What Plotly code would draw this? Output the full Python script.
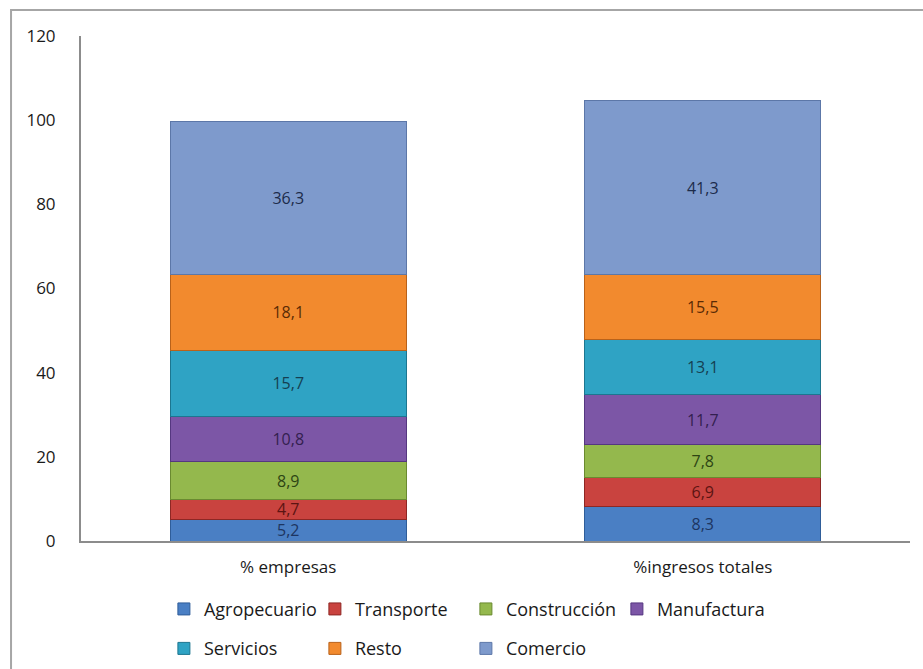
import plotly.graph_objects as go

categories = ["% empresas", "%ingresos totales"]
sectors = ["Agropecuario", "Transporte", "Construcción", "Manufactura",
           "Servicios", "Resto", "Comercio"]
values = {
    "Agropecuario": [5.2, 8.3],
    "Transporte": [4.7, 6.9],
    "Construcción": [8.9, 7.8],
    "Manufactura": [10.8, 11.7],
    "Servicios": [15.7, 13.1],
    "Resto": [18.1, 15.5],
    "Comercio": [36.3, 41.3],
}
y_ticks = [0, 20, 40, 60, 80, 100, 120]

fills = {
    "Agropecuario": "#4a7fc4",
    "Transporte": "#c9433f",
    "Construcción": "#94b84d",
    "Manufactura": "#7c56a6",
    "Servicios": "#2fa3c4",
    "Resto": "#f28a2e",
    "Comercio": "#7e9acc",
}
edges = {
    "Agropecuario": "#2f5d99",
    "Transporte": "#8e2724",
    "Construcción": "#6a8a30",
    "Manufactura": "#553780",
    "Servicios": "#1c7690",
    "Resto": "#b9621a",
    "Comercio": "#5c77a8",
}
label_colors = {
    "Agropecuario": "#1d3561",
    "Transporte": "#5c1412",
    "Construcción": "#2e4514",
    "Manufactura": "#33204f",
    "Servicios": "#153f52",
    "Resto": "#5a2a05",
    "Comercio": "#1c2b4a",
}

FONT = "Open Sans"
TEXT = "#1a1a1a"

fig = go.Figure()
for i, s in enumerate(sectors):
    fig.add_trace(go.Bar(
        x=categories,
        y=values[s],
        name=s,
        text=[f"{v:.1f}".replace(".", ",") for v in values[s]],
        textposition="inside",
        insidetextanchor="middle",
        textangle=0,
        textfont=dict(family=FONT, size=16, color=label_colors[s]),
        constraintext="none",
        marker=dict(color=fills[s], line=dict(color=edges[s], width=1)),
        legend="legend" if i < 4 else "legend2",
        hoverinfo="skip",
    ))

# two legend rows sharing the same column grid, placed in container space
legend_common = dict(
    orientation="h",
    xanchor="left",
    yanchor="top",
    x=0.10,
    yref="container",
    entrywidth=106,
    entrywidthmode="pixels",
    font=dict(family=FONT, size=18, color=TEXT),
    traceorder="normal",
    itemwidth=30,
    bgcolor="rgba(0,0,0,0)",
)

fig.update_layout(
    width=923,
    height=669,
    margin=dict(l=81, r=13, t=36, b=128, autoexpand=False),
    paper_bgcolor="white",
    plot_bgcolor="white",
    barmode="stack",
    bargap=0.43,
    showlegend=True,
    legend=dict(legend_common, y=0.117),
    legend2=dict(legend_common, y=0.058),
    xaxis=dict(
        showline=True, linecolor="#8c8c8c", linewidth=2,
        tickfont=dict(family=FONT, size=17, color=TEXT),
        ticks="", ticklabelstandoff=10,
        showgrid=False, zeroline=False,
    ),
    yaxis=dict(
        range=[0, 120], tickvals=y_ticks,
        showline=True, linecolor="#8c8c8c", linewidth=2,
        tickfont=dict(family=FONT, size=17, color=TEXT),
        ticks="", ticklabelstandoff=20,
        showgrid=False, zeroline=False,
    ),
    shapes=[
        dict(type="rect", xref="paper", yref="paper",
             x0=-0.0844, x1=1.3, y0=-0.4, y1=1.0515,
             line=dict(color="#a6a6a6", width=2), fillcolor="rgba(0,0,0,0)",
             layer="below"),
    ],
)

fig.write_html("out.html")
